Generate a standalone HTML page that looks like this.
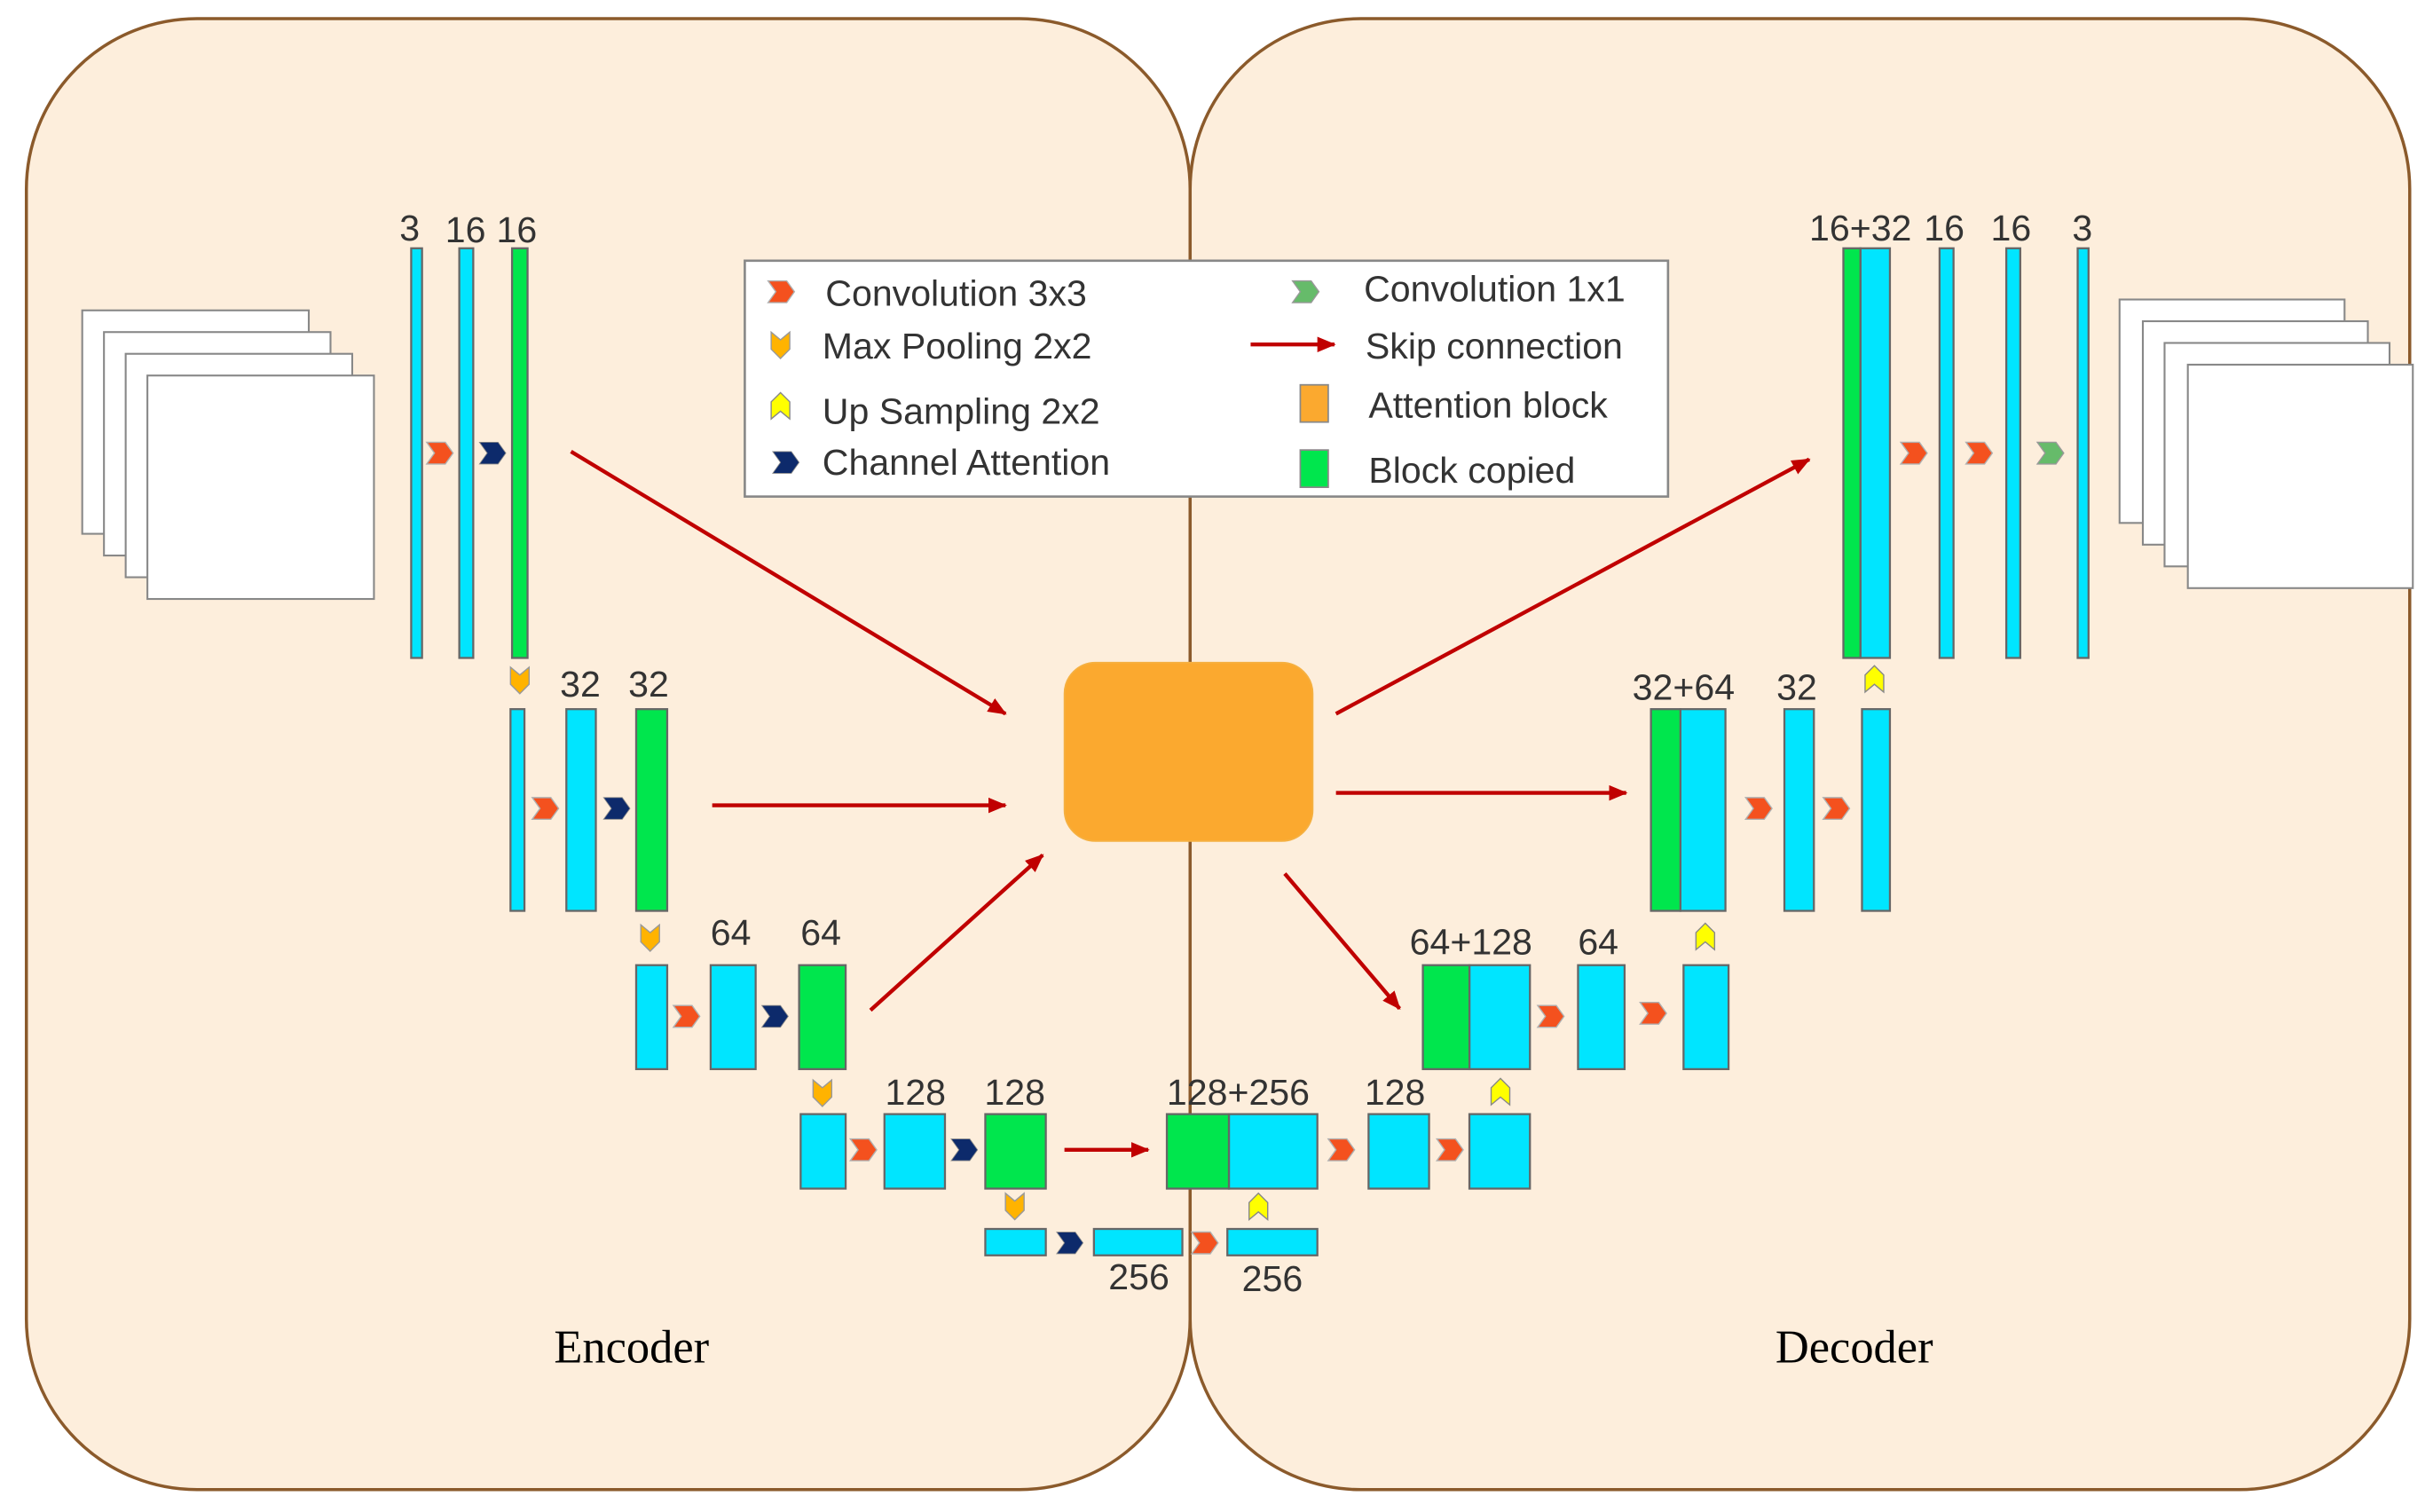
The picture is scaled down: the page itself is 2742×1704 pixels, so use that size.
<!DOCTYPE html>
<html><head><meta charset="utf-8"><style>html,body{margin:0;padding:0;background:#fff}svg{display:block}</style></head><body>
<svg width="2742" height="1704" viewBox="0 0 1568 974.4" xmlns="http://www.w3.org/2000/svg">
<defs>
<polygon id="cv" points="-8,-7 4,-7 9,0 4,7 -8,7 -3,0" fill="#F4511E" stroke="#b0b0b0" stroke-width="0.8"/>
<polygon id="ca" points="-8,-7 4,-7 9,0 4,7 -8,7 -3,0" fill="#0D2A6B" stroke="#888" stroke-width="0.5"/>
<polygon id="c1" points="-8,-7 4,-7 9,0 4,7 -8,7 -3,0" fill="#66BB6A" stroke="#999" stroke-width="0.8"/>
<polygon id="mp" points="-6,-8 0,-3 6,-8 6,3 0,9 -6,3" fill="#FFB300" stroke="#999" stroke-width="0.8"/>
<polygon id="up" points="-6,8 0,3 6,8 6,-3 0,-9 -6,-3" fill="#FFFF00" stroke="#888" stroke-width="0.8"/>
<marker id="ah" markerWidth="12" markerHeight="10" refX="11" refY="5" orient="auto" markerUnits="userSpaceOnUse"><polygon points="0,0 12,5 0,10" fill="#C00000"/></marker>
</defs>
<rect width="1568" height="974.4" fill="#fff"/>
<rect x="17" y="12" width="750" height="948" rx="110" fill="#FDEEDC" stroke="#8B5A2B" stroke-width="2"/>
<rect x="767" y="12" width="786" height="948" rx="110" fill="#FDEEDC" stroke="#8B5A2B" stroke-width="2"/>
<g fill="#fff" stroke="#888" stroke-width="1.2">
<rect x="53" y="200" width="146" height="144"/><rect x="67" y="214" width="146" height="144"/><rect x="81" y="228" width="146" height="144"/><rect x="95" y="242" width="146" height="144"/>
<rect x="1366" y="193" width="145" height="144"/><rect x="1381" y="207" width="145" height="144"/><rect x="1395" y="221" width="145" height="144"/><rect x="1410" y="235" width="145" height="144"/>
</g>
<g stroke="#666" stroke-width="1.3">
<g fill="#00E5FF">
<rect x="265" y="160" width="7" height="264"/><rect x="296" y="160" width="9" height="264"/>
<rect x="329" y="457" width="9" height="130"/><rect x="365" y="457" width="19" height="130"/>
<rect x="410" y="622" width="20" height="67"/><rect x="458" y="622" width="29" height="67"/>
<rect x="516" y="718" width="29" height="48"/><rect x="570" y="718" width="39" height="48"/>
<rect x="635" y="792" width="39" height="17"/><rect x="705" y="792" width="57" height="17"/><rect x="791" y="792" width="58" height="17"/>
<rect x="792" y="718" width="57" height="48"/><rect x="882" y="718" width="39" height="48"/><rect x="947" y="718" width="39" height="48"/>
<rect x="947" y="622" width="39" height="67"/><rect x="1017" y="622" width="30" height="67"/><rect x="1085" y="622" width="29" height="67"/>
<rect x="1083" y="457" width="29" height="130"/><rect x="1150" y="457" width="19" height="130"/><rect x="1200" y="457" width="18" height="130"/>
<rect x="1199" y="160" width="19" height="264"/><rect x="1250" y="160" width="9" height="264"/><rect x="1293" y="160" width="9" height="264"/><rect x="1339" y="160" width="7" height="264"/>
</g>
<g fill="#00E64D">
<rect x="330" y="160" width="10" height="264"/><rect x="410" y="457" width="20" height="130"/><rect x="515" y="622" width="30" height="67"/><rect x="635" y="718" width="39" height="48"/>
<rect x="752" y="718" width="40" height="48"/><rect x="917" y="622" width="30" height="67"/><rect x="1064" y="457" width="19" height="130"/><rect x="1188" y="160" width="11" height="264"/>
</g>
</g>
<rect x="686" y="427" width="160" height="115" rx="20" fill="#FBA92F" stroke="#F5B041" stroke-width="1"/>
<g stroke="#C00000" stroke-width="2.5" marker-end="url(#ah)" fill="none">
<line x1="368" y1="291" x2="648" y2="460"/><line x1="459" y1="519" x2="648" y2="519"/><line x1="561" y1="651" x2="672" y2="551"/>
<line x1="861" y1="460" x2="1166" y2="296"/><line x1="861" y1="511" x2="1048" y2="511"/><line x1="828" y1="563" x2="902" y2="650"/>
<line x1="686" y1="741" x2="740" y2="741"/>
</g>
<use href="#cv" x="283" y="292"/><use href="#ca" x="317" y="292"/><use href="#mp" x="335" y="438"/>
<use href="#cv" x="351" y="521"/><use href="#ca" x="397" y="521"/><use href="#mp" x="419" y="604"/>
<use href="#cv" x="442" y="655"/><use href="#ca" x="499" y="655"/><use href="#mp" x="530" y="704"/>
<use href="#cv" x="556" y="741"/><use href="#ca" x="621" y="741"/><use href="#mp" x="654" y="777"/>
<use href="#ca" x="689" y="801"/><use href="#cv" x="776" y="801"/><use href="#up" x="811" y="778"/>
<use href="#cv" x="864" y="741"/><use href="#cv" x="934" y="741"/><use href="#up" x="967" y="704"/>
<use href="#cv" x="999" y="655"/><use href="#cv" x="1065" y="653"/><use href="#up" x="1099" y="604"/>
<use href="#cv" x="1133" y="521"/><use href="#cv" x="1183" y="521"/><use href="#up" x="1208" y="438"/>
<use href="#cv" x="1233" y="292"/><use href="#cv" x="1275" y="292"/><use href="#c1" x="1321" y="292"/>
<g font-family="Liberation Sans, sans-serif" font-size="23.5" fill="#333" text-anchor="middle">
<text x="264" y="155">3</text><text x="300" y="156">16</text><text x="333" y="156">16</text>
<text x="374" y="449">32</text><text x="418" y="449">32</text>
<text x="471" y="609">64</text><text x="529" y="609">64</text>
<text x="590" y="712">128</text><text x="654" y="712">128</text>
<text x="734" y="831">256</text><text x="820" y="832">256</text>
<text x="798" y="712">128+256</text><text x="899" y="712">128</text>
<text x="948" y="615">64+128</text><text x="1030" y="615">64</text>
<text x="1085" y="451">32+64</text><text x="1158" y="451">32</text>
<text x="1199" y="155">16+32</text><text x="1253" y="155">16</text><text x="1296" y="155">16</text><text x="1342" y="155">3</text>
</g>
<rect x="480" y="168" width="595" height="152" fill="#fff" stroke="#888" stroke-width="1.5"/>
<use href="#cv" x="503" y="188"/><use href="#mp" x="503" y="222"/><use href="#up" x="503" y="262"/><use href="#ca" x="506" y="298"/><use href="#c1" x="841" y="188"/>
<line x1="806" y1="222" x2="860" y2="222" stroke="#C00000" stroke-width="2.5" marker-end="url(#ah)"/>
<rect x="838" y="248" width="18" height="24" fill="#FBA92F" stroke="#888"/>
<rect x="838" y="290" width="18" height="24" fill="#00E64D" stroke="#888"/>
<g font-family="Liberation Sans, sans-serif" font-size="23.5" fill="#333">
<text x="532" y="197">Convolution 3x3</text><text x="530" y="231">Max Pooling 2x2</text><text x="530" y="273">Up Sampling 2x2</text><text x="530" y="306">Channel Attention</text>
<text x="879" y="194">Convolution 1x1</text><text x="880" y="231">Skip connection</text><text x="882" y="269">Attention block</text><text x="882" y="311">Block copied</text>
</g>
<g font-family="Liberation Serif, serif" font-size="30" fill="#000" text-anchor="middle">
<text x="407" y="878">Encoder</text><text x="1195" y="878">Decoder</text>
</g>
</svg>
</body></html>
